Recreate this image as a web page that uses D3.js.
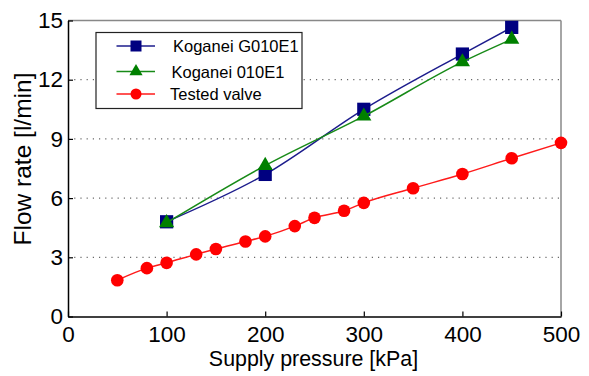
<!DOCTYPE html>
<html>
<head>
<meta charset="utf-8">
<script src="https://cdn.jsdelivr.net/npm/d3@7"></script>
<style>
  body { margin: 0; background: #fff; }
  svg text { font-family: "Liberation Sans", Arial, sans-serif; fill: #000; }
</style>
</head>
<body>
<svg id="chart" width="589" height="376"></svg>
<script>
// data
const pressureG = [100, 200, 300, 400, 450];
const flowG010E1 = [4.8, 7.2, 10.5, 13.3, 14.65];
const flow010E1 = [4.75, 7.65, 10.15, 12.9, 14.05];
const pressureTested = [50, 80, 100, 130, 150, 180, 200, 230, 250, 280, 300, 350, 400, 450, 500];
const flowTested = [1.84, 2.45, 2.72, 3.15, 3.42, 3.8, 4.06, 4.58, 5.0, 5.36, 5.76, 6.5, 7.22, 8.02, 8.8];
const xTicks = [0, 100, 200, 300, 400, 500];
const yTicks = [0, 3, 6, 9, 12, 15];
const seriesNames = ["Koganei G010E1", "Koganei 010E1", "Tested valve"];

const padding = { left: 68, right: 28, top: 20.5, bottom: 59.5 };
const width = 589, height = 376;
const innerWidth = width - padding.left - padding.right;
const innerHeight = height - padding.top - padding.bottom;

const svg = d3.select("#chart");
const axes = svg.append("g").attr("transform", `translate(${padding.left},${padding.top})`);

const xScale = d3.scaleLinear().domain([0, 500]).range([0, innerWidth]);
const yScale = d3.scaleLinear().domain([0, 15]).range([innerHeight, 0]);

// dotted grid
axes.append("g")
    .selectAll("line")
    .data(yTicks.filter(d => d > 0 && d < 15))
    .join("line")
    .attr("x1", 0).attr("x2", innerWidth)
    .attr("y1", d => yScale(d)).attr("y2", d => yScale(d))
    .attr("stroke", "#444")
    .attr("stroke-width", 1)
    .attr("stroke-dasharray", "1.2,5");

// frame: top/right grey, left/bottom black
axes.append("line").attr("x1", 0).attr("x2", innerWidth).attr("y1", 0).attr("y2", 0)
    .attr("stroke", "#888").attr("stroke-width", 1.5);
axes.append("line").attr("x1", innerWidth).attr("x2", innerWidth).attr("y1", 0).attr("y2", innerHeight)
    .attr("stroke", "#888").attr("stroke-width", 1.5);

const xAxis = d3.axisBottom(xScale).tickValues(xTicks).tickSizeInner(-5).tickSizeOuter(0).tickPadding(10);
const yAxis = d3.axisLeft(yScale).tickValues(yTicks).tickSizeInner(-5).tickSizeOuter(0).tickPadding(5);

const gx = axes.append("g")
    .attr("transform", `translate(0,${innerHeight})`)
    .call(xAxis);
const gy = axes.append("g").call(yAxis);
[gx, gy].forEach(g => {
    g.attr("font-size", 22.5).attr("font-family", "Liberation Sans, Arial, sans-serif");
    g.select(".domain").attr("stroke", "#000").attr("stroke-width", 1.5);
    g.selectAll(".tick line").attr("stroke", "#000").attr("stroke-width", 1.2);
});

// axis titles
axes.append("text")
    .attr("x", innerWidth / 2 - 1)
    .attr("y", innerHeight + 49)
    .attr("text-anchor", "middle")
    .attr("font-size", 21.4)
    .text("Supply pressure [kPa]");
axes.append("text")
    .attr("transform", `translate(${31 - padding.left},${159 - padding.top}) rotate(-90)`)
    .attr("text-anchor", "middle")
    .attr("font-size", 24.5)
    .text("Flow rate [l/min]");

const series = [
    { name: seriesNames[0], xs: pressureG, ys: flowG010E1, color: "#1c1c8c", fill: "#000080", marker: "square" },
    { name: seriesNames[1], xs: pressureG, ys: flow010E1, color: "#178a17", fill: "#008000", marker: "triangle" },
    { name: seriesNames[2], xs: pressureTested, ys: flowTested, color: "#ff1a1a", fill: "#ff0000", marker: "circle" }
];

const line = d3.line()
    .x(d => xScale(d[0]))
    .y(d => yScale(d[1]))
    .curve(d3.curveMonotoneX);

const plotSymbol = {
    square: d3.symbol().type(d3.symbolSquare).size(175),
    triangle: d3.symbol().type(d3.symbolTriangle).size(100),
    circle: d3.symbol().type(d3.symbolCircle).size(125)
};
const legendSymbol = {
    square: d3.symbol().type(d3.symbolSquare).size(121),
    triangle: d3.symbol().type(d3.symbolTriangle).size(75),
    circle: d3.symbol().type(d3.symbolCircle).size(95)
};

series.forEach(s => {
    const pts = s.xs.map((x, i) => [x, s.ys[i]]);
    axes.append("path")
        .datum(pts)
        .attr("d", line)
        .attr("fill", "none")
        .attr("stroke", s.color)
        .attr("stroke-width", 1.5);
    axes.append("g")
        .selectAll("path")
        .data(pts)
        .join("path")
        .attr("transform", d => `translate(${xScale(d[0])},${yScale(d[1])})`)
        .attr("d", plotSymbol[s.marker]())
        .attr("fill", s.fill);
});

// legend
const legend = svg.append("g").attr("transform", "translate(96,32.5)");
legend.append("rect")
    .attr("width", 206).attr("height", 76)
    .attr("fill", "#fff")
    .attr("stroke", "#222")
    .attr("stroke-width", 1.2);
const rowY = [13.5, 39, 61.5];
const textX = [77, 75.5, 74];
series.forEach((s, i) => {
    const row = legend.append("g").attr("transform", `translate(0,${rowY[i]})`);
    row.append("line")
        .attr("x1", 20.5).attr("x2", 59)
        .attr("stroke", s.color).attr("stroke-width", 1.5);
    row.append("path")
        .attr("transform", "translate(40,0)")
        .attr("d", legendSymbol[s.marker]())
        .attr("fill", s.fill);
    row.append("text")
        .attr("x", textX[i])
        .attr("y", 6)
        .attr("font-size", 16.5)
        .text(s.name);
});
</script>
</body>
</html>
